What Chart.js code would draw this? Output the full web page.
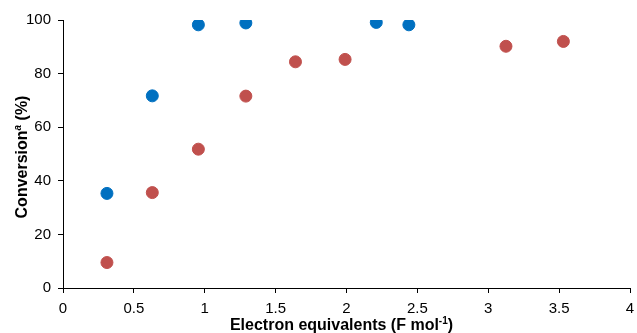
<!DOCTYPE html>
<html>
<head>
<meta charset="utf-8">
<script src="https://cdn.jsdelivr.net/npm/chart.js@4"></script>
<style>
  html, body { margin: 0; padding: 0; background: #fff; }
  #wrap { width: 637px; height: 333px; position: relative; }
</style>
</head>
<body>
<div id="wrap"><canvas id="chart"></canvas></div>
<script>
// Data
const blueX = [0.31, 0.63, 0.955, 1.29, 2.21, 2.44];
const blueY = [35.3, 71.7, 98.2, 98.9, 99.1, 98.2];
const redX = [0.31, 0.63, 0.955, 1.29, 1.64, 1.99, 3.125, 3.53];
const redY = [9.5, 35.6, 51.8, 71.6, 84.4, 85.3, 90.2, 92.0];

// axis titles, split so the superscripts can be drawn smaller and raised
const xTitle = [{ text: 'Electron equivalents (F mol' }, { text: '-1', sup: true }, { text: ')' }];
const yTitle = [{ text: 'Conversion' }, { text: 'a', sup: true, italic: true }, { text: ' (%)' }];

function toPoints(xs, ys) {
    return xs.map((x, i) => ({ x: x, y: ys[i] }));
}

const font = 'Liberation Sans, Arial, sans-serif';

// draw a title made of pieces, centred on (0,0) of the current transform
function drawPieces(ctx, pieces) {
    const fontOf = p => (p.italic ? 'italic ' : '') + 'bold ' + (p.sup ? '10px ' : '16px ') + font;
    let total = 0;
    pieces.forEach(p => { ctx.font = fontOf(p); total += ctx.measureText(p.text).width; });
    let x = -total / 2;
    ctx.textBaseline = 'alphabetic';
    ctx.textAlign = 'left';
    pieces.forEach(p => {
        ctx.font = fontOf(p);
        ctx.fillText(p.text, x, p.sup ? -6 : 0);
        x += ctx.measureText(p.text).width;
    });
}

const axisTitles = {
    id: 'axisTitles',
    afterDraw(chart) {
        const ctx = chart.ctx;
        const area = chart.chartArea;
        ctx.save();
        ctx.fillStyle = '#000';
        // x title
        ctx.save();
        ctx.translate((area.left + area.right) / 2 - 5, 330);
        drawPieces(ctx, xTitle);
        ctx.restore();
        // y title, rotated
        ctx.save();
        ctx.translate(27, (area.top + area.bottom) / 2 + 3);
        ctx.rotate(-Math.PI / 2);
        drawPieces(ctx, yTitle);
        ctx.restore();
        ctx.restore();
    }
};

new Chart(document.getElementById('chart'), {
    type: 'scatter',
    data: {
        datasets: [
            {
                label: 'Series 1',
                data: toPoints(blueX, blueY),
                backgroundColor: '#0070C0',
                borderColor: '#0070C0',
                pointRadius: 6,
                pointHoverRadius: 6
            },
            {
                label: 'Series 2',
                data: toPoints(redX, redY),
                backgroundColor: '#C0504D',
                borderColor: '#C0504D',
                pointRadius: 6,
                pointHoverRadius: 6
            }
        ]
    },
    options: {
        responsive: true,
        maintainAspectRatio: false,
        animation: false,
        layout: { padding: { left: 0, right: 5, top: 20, bottom: 0 } },
        plugins: { legend: { display: false }, tooltip: { enabled: false } },
        scales: {
            x: {
                type: 'linear',
                min: 0, max: 4,
                ticks: {
                    stepSize: 0.5, color: '#000', padding: 7,
                    font: { family: font, size: 15 },
                    callback: value => String(value)
                },
                grid: { drawOnChartArea: false, drawTicks: true, tickLength: 5, color: '#000' },
                border: { color: '#000', width: 1 },
                afterFit: function (scale) {
                    scale.height = 45;
                    scale.paddingLeft = 0;
                    scale.paddingRight = 0;
                }
            },
            y: {
                min: 0, max: 100,
                ticks: { stepSize: 20, color: '#000', padding: 7, font: { family: font, size: 15 } },
                grid: { drawOnChartArea: false, drawTicks: true, tickLength: 5, color: '#000' },
                border: { color: '#000', width: 1 },
                afterFit: function (scale) {
                    scale.width = 63;
                    scale.paddingTop = 0;
                    scale.paddingBottom = 0;
                }
            }
        }
    },
    plugins: [axisTitles]
});
</script>
</body>
</html>
